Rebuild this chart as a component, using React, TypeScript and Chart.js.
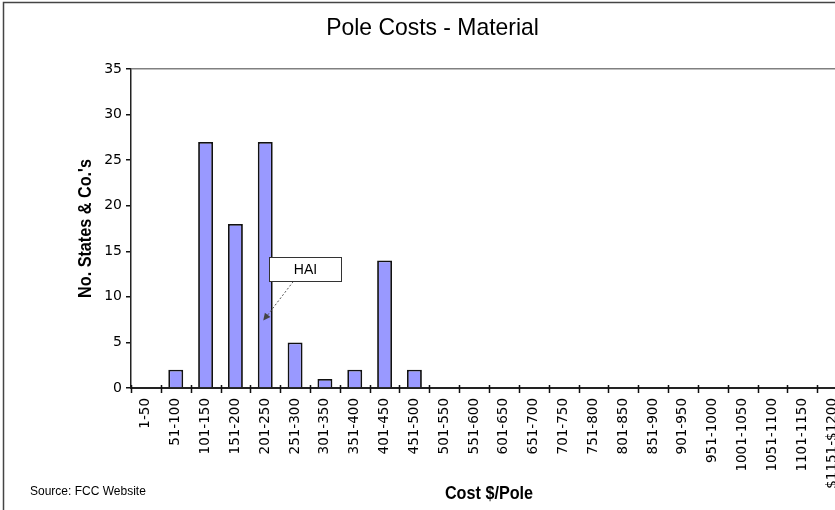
import React, { useEffect, useRef } from "react";
import { Chart, registerables } from "chart.js";

Chart.register(...registerables);

// Cost bands per pole (USD)
const costRanges = [
  "1-50", "51-100", "101-150", "151-200", "201-250", "251-300", "301-350",
  "351-400", "401-450", "451-500", "501-550", "551-600", "601-650", "651-700",
  "701-750", "751-800", "801-850", "851-900", "901-950", "951-1000",
  "1001-1050", "1051-1100", "1101-1150", "$1151-$1200",
];

// Number of states & companies reporting each cost band
const stateCounts = [0, 2, 27, 18, 27, 5, 1, 2, 14, 2, 0, 0, 0, 0, 0, 0, 0, 0, 0, 0, 0, 0, 0, 0];

const yMin = 0;
const yMax = 35;
const yStep = 5;

const chartTitle = "Pole Costs - Material";
const yAxisTitle = "No. States & Co.'s";
const xAxisTitle = "Cost $/Pole";
const sourceNote = "Source: FCC Website";

// Callout pointing into one of the bars
const calloutLabel = "HAI";
const calloutCategory = "201-250";
const calloutValue = 7.4;

const CANVAS_W = 870;
const CANVAS_H = 510;

function drawCondensed(
  ctx: CanvasRenderingContext2D,
  text: string,
  x: number,
  y: number,
  font: string,
  sx: number,
  rotate = 0
) {
  ctx.save();
  ctx.translate(x, y);
  if (rotate) ctx.rotate(rotate);
  ctx.scale(sx, 1);
  ctx.font = font;
  ctx.fillStyle = "#000";
  ctx.textAlign = "center";
  ctx.textBaseline = "middle";
  ctx.fillText(text, 0, 0);
  ctx.restore();
}

const frameAndLabels = {
  id: "frameAndLabels",
  beforeDraw(chart: any) {
    const { ctx, width, height } = chart;
    ctx.save();
    ctx.fillStyle = "#fff";
    ctx.fillRect(0, 0, width, height);
    ctx.strokeStyle = "#444";
    ctx.lineWidth = 1.5;
    ctx.strokeRect(3.5, 2.5, width - 11, height + 10);
    ctx.restore();
  },
  afterDraw(chart: any) {
    const { ctx, chartArea, scales, width } = chart;
    const xs = scales.x;
    const ys = scales.y;

    // tick marks crossing the category axis at band boundaries
    const half = (xs.getPixelForValue(1) - xs.getPixelForValue(0)) / 2;
    ctx.save();
    ctx.strokeStyle = "#111";
    ctx.lineWidth = 1.5;
    ctx.beginPath();
    for (let i = 0; i <= costRanges.length; i++) {
      const px = Math.round(xs.getPixelForValue(i) - half) + 0.5;
      ctx.moveTo(px, chartArea.bottom - 3);
      ctx.lineTo(px, chartArea.bottom + 5);
    }
    ctx.stroke();
    ctx.restore();

    // titles
    drawCondensed(ctx, chartTitle, (3 + width - 8) / 2, 28, "24px Arial", 0.955);
    drawCondensed(
      ctx,
      xAxisTitle,
      (chartArea.left + chartArea.right) / 2,
      494,
      "bold 18px Arial",
      0.9
    );
    drawCondensed(
      ctx,
      yAxisTitle,
      86,
      (chartArea.top + chartArea.bottom) / 2,
      "bold 18px Arial",
      0.9,
      -Math.PI / 2
    );

    // source note
    ctx.save();
    ctx.font = "12px Arial";
    ctx.fillStyle = "#000";
    ctx.textAlign = "left";
    ctx.textBaseline = "middle";
    ctx.fillText(sourceNote, 30, 492);
    ctx.restore();

    // callout
    const idx = costRanges.indexOf(calloutCategory);
    const tipX = xs.getPixelForValue(idx) - 2;
    const tipY = ys.getPixelForValue(calloutValue);
    const boxX = Math.round(tipX + 6) + 0.5;
    const boxY = Math.round(tipY - 64) + 0.5;
    const boxW = 72;
    const boxH = 24;

    ctx.save();
    ctx.strokeStyle = "#555";
    ctx.lineWidth = 1;
    ctx.setLineDash([2, 2]);
    ctx.beginPath();
    ctx.moveTo(tipX + 30, tipY - 39);
    ctx.lineTo(tipX + 4, tipY - 5);
    ctx.stroke();
    ctx.setLineDash([]);
    // arrow head
    const ang = Math.atan2(39, -30);
    ctx.fillStyle = "#444";
    ctx.beginPath();
    ctx.moveTo(tipX, tipY);
    ctx.lineTo(tipX - 8 * Math.cos(ang - 0.45), tipY - 8 * Math.sin(ang - 0.45));
    ctx.lineTo(tipX - 8 * Math.cos(ang + 0.45), tipY - 8 * Math.sin(ang + 0.45));
    ctx.closePath();
    ctx.fill();

    ctx.fillStyle = "#fff";
    ctx.fillRect(boxX, boxY, boxW, boxH);
    ctx.strokeStyle = "#333";
    ctx.lineWidth = 1;
    ctx.strokeRect(boxX, boxY, boxW, boxH);
    ctx.font = "14px Arial";
    ctx.fillStyle = "#000";
    ctx.textAlign = "center";
    ctx.textBaseline = "middle";
    ctx.fillText(calloutLabel, boxX + boxW / 2, boxY + boxH / 2 + 1);
    ctx.restore();
  },
};

export default function App() {
  const canvasRef = useRef<HTMLCanvasElement | null>(null);

  useEffect(() => {
    const canvas = canvasRef.current;
    if (!canvas) return;
    const chart = new Chart(canvas, {
      type: "bar",
      data: {
        labels: costRanges,
        datasets: [
          {
            data: stateCounts,
            backgroundColor: "#9999FF",
            borderColor: "#111",
            borderWidth: 1.8,
            categoryPercentage: 1,
            barPercentage: 0.5,
          },
        ],
      },
      options: {
        animation: false,
        responsive: false,
        devicePixelRatio: 1,
        layout: { padding: { top: 69, right: 23, bottom: 0, left: 0 } },
        plugins: {
          legend: { display: false },
          tooltip: { enabled: false },
          title: { display: false },
        },
        scales: {
          x: {
            offset: true,
            grid: { display: false, drawTicks: false },
            border: { display: true, color: "#222", width: 2 },
            ticks: {
              autoSkip: false,
              minRotation: 90,
              maxRotation: 90,
              padding: 10,
              color: "#000",
              font: { family: "DejaVu Sans", size: 13.5 },
            },
            afterFit(scale: any) {
              scale.height = 122;
            },
          },
          y: {
            min: yMin,
            max: yMax,
            grid: {
              drawTicks: true,
              tickLength: 5,
              tickColor: "#111",
              tickWidth: 1.5,
              color: (c: any) => (c.tick && c.tick.value === yMax ? "#808080" : "rgba(0,0,0,0)"),
              lineWidth: 1.5,
            },
            border: { display: true, color: "#222", width: 1.5 },
            ticks: {
              stepSize: yStep,
              padding: 4,
              color: "#000",
              font: { family: "DejaVu Sans", size: 14 },
            },
            afterFit(scale: any) {
              scale.width = 131;
            },
          },
        },
      },
      plugins: [frameAndLabels],
    });
    return () => chart.destroy();
  }, []);

  return (
    <div
      style={{
        position: "fixed",
        left: 0,
        top: 0,
        width: 835,
        height: 510,
        overflow: "hidden",
        background: "#fff",
      }}
    >
      <canvas
        ref={canvasRef}
        width={CANVAS_W}
        height={CANVAS_H}
        style={{ width: CANVAS_W, height: CANVAS_H, display: "block" }}
      />
    </div>
  );
}
